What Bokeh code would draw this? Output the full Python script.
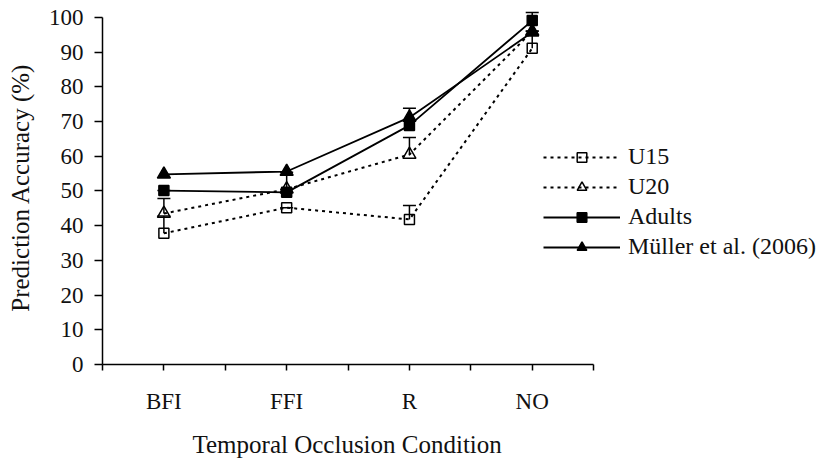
from bokeh.plotting import figure
from bokeh.models import (Range1d, FixedTicker, Legend, LegendItem, Whisker,
                          TeeHead, ColumnDataSource, Title)
from bokeh.embed import file_html
from bokeh.resources import INLINE

# ---- data ----
categories = ["BFI", "FFI", "R", "NO"]
u15 = [37.8, 45.2, 41.8, 91.1]
u15_err = [5.0, 0.0, 4.0, 5.0]
u20 = [43.5, 50.5, 60.5, 96.0]
u20_err = [4.3, 0.0, 4.9, 0.0]
adults = [50.1, 49.6, 68.9, 99.1]
adults_err = [0.0, 5.8, 4.9, 2.3]
muller = [54.8, 55.6, 71.2, 95.7]
y_ticks = list(range(0, 101, 10))
x_title = "Temporal Occlusion Condition"
y_title = "Prediction Accuracy (%)"

FONT = "Liberation Serif"

# category positions on a half-step axis (ticks between categories)
xpos = [2 * i + 1 for i in range(len(categories))]
n_slots = 2 * len(categories)

p = figure(width=827, height=462, output_backend="svg", toolbar_location=None,
           x_range=Range1d(0, 11.81), y_range=Range1d(0, 102),
           min_border_left=102, min_border_right=0, min_border_top=10,
           min_border_bottom=98)
p.outline_line_color = None
p.xgrid.visible = False
p.ygrid.visible = False
p.background_fill_color = "white"
p.border_fill_color = "white"

# axes
p.xaxis.ticker = FixedTicker(ticks=list(range(0, n_slots + 1)))
overrides = {i: "" for i in range(0, n_slots + 1)}
for x, c in zip(xpos, categories):
    overrides[x] = c
p.xaxis.major_label_overrides = overrides
p.xaxis.bounds = (0, n_slots)
p.yaxis.ticker = FixedTicker(ticks=y_ticks)
p.yaxis.bounds = (0, 100)
p.xaxis.minor_tick_line_color = None
p.yaxis.minor_tick_line_color = None
for ax in (p.xaxis, p.yaxis):
    ax.axis_line_color = "black"
    ax.axis_line_width = 1.5
    ax.major_tick_line_color = "black"
    ax.major_tick_line_width = 1.5
    ax.major_tick_in = 0
    ax.major_label_text_font = FONT
    ax.major_label_text_font_size = "23px"
    ax.major_label_text_color = "#111111"
    ax.axis_label_text_font = FONT
    ax.axis_label_text_font_size = "25px"
    ax.axis_label_text_font_style = "normal"
    ax.axis_label_text_color = "#111111"
p.xaxis.major_tick_out = 6
p.yaxis.major_tick_out = 8
p.xaxis.major_label_standoff = 18
p.yaxis.major_label_standoff = 11
p.yaxis.axis_label = y_title
p.yaxis.axis_label_standoff = 12

# x-axis title under the drawn axis (frame is wider to hold the legend)
p.add_layout(Title(text=x_title, align="left", offset=90, standoff=0,
                   vertical_align="top",
                   padding=dict(left=0, right=0, top=14, bottom=0),
                   text_font=FONT, text_font_size="25px",
                   text_font_style="normal", text_color="#111111"), "below")

series = [
    ("U15", u15, u15_err, "square", 10, "3 4", False),
    ("U20", u20, u20_err, "triangle", 13, "3 4", False),
    ("Adults", adults, adults_err, "square", 10, None, True),
    ("Müller et al. (2006)", muller, None, "triangle", 13, None, True),
]

items = []
for name, vals, errs, marker, size, dash, filled in series:
    src = ColumnDataSource(dict(x=xpos, y=vals))
    if errs is not None:
        esrc = ColumnDataSource(dict(x=xpos, lo=vals,
                                     hi=[v + e for v, e in zip(vals, errs)]))
        w = Whisker(source=esrc, base="x", lower="lo", upper="hi",
                    dimension="height", line_color="black", line_width=1.5,
                    lower_head=None,
                    upper_head=TeeHead(size=13, line_color="black", line_width=1.5))
        p.add_layout(w)
    if dash:
        lr = p.line("x", "y", source=src, line_color="black", line_width=2,
                    line_dash=dash)
    else:
        lr = p.line("x", "y", source=src, line_color="black", line_width=1.8)
    sr = p.scatter("x", "y", source=src, marker=marker, size=size,
                   line_color="black", line_width=1.5,
                   fill_color="black" if filled else None)
    items.append(LegendItem(label=name, renderers=[lr, sr]))

legend = Legend(items=items, location=(441, 104), orientation="vertical",
                glyph_width=77, glyph_height=24, label_height=24,
                label_standoff=8, spacing=3, padding=0, margin=0,
                border_line_color=None, background_fill_alpha=0)
legend.label_text_font = FONT
legend.label_text_font_size = "24px"
legend.label_text_color = "#111111"
p.add_layout(legend, "center")

open("out.html", "w").write(file_html(p, INLINE))
